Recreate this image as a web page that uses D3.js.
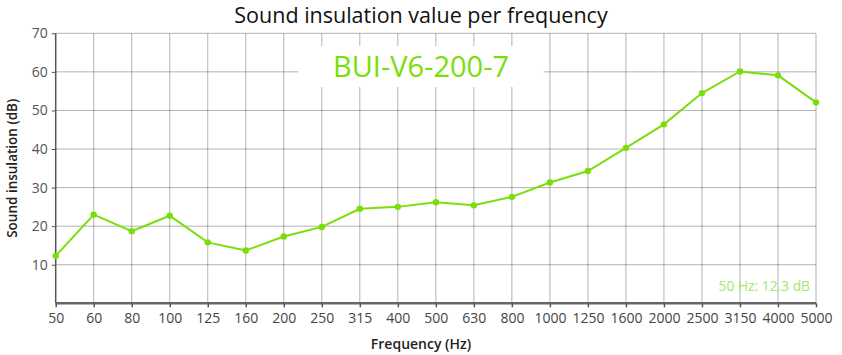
<!DOCTYPE html>
<html><head><meta charset="utf-8">
<script src="https://cdn.jsdelivr.net/npm/d3@7"></script>
<style>
html,body{margin:0;padding:0;background:#fff;}
svg{display:block;}
</style></head>
<body>
<svg id="chart" width="842" height="355"></svg>
<script>
const frequencies = ["50","60","80","100","125","160","200","250","315","400","500","630","800","1000","1250","1600","2000","2500","3150","4000","5000"];
const insulation = [12.3,23.0,18.7,22.7,15.8,13.7,17.3,19.8,24.5,25.0,26.2,25.4,27.6,31.3,34.3,40.3,46.4,54.5,60.1,59.1,52.1];
const yTicks = [10,20,30,40,50,60,70];
const title = "Sound insulation value per frequency";
const seriesName = "BUI-V6-200-7";
const xLabel = "Frequency (Hz)";
const yLabel = "Sound insulation (dB)";

const W = 842, H = 355;
const m = {left:55.7, right:26, top:33.3, bottom:52};
const svg = d3.select("#chart");
const font = "'Open Sans', sans-serif";
const green = "#7ade0a";

const x = d3.scalePoint().domain(frequencies).range([m.left, W - m.right]);
const y = d3.scaleLinear().domain([0,70]).range([H - m.bottom + 0.3, m.top]);

// grid
const grid = svg.append("g");
grid.selectAll("line.v").data(frequencies.slice(1)).join("line")
  .attr("x1", d=>x(d)).attr("x2", d=>x(d)).attr("y1", y(70)).attr("y2", y(0))
  .attr("stroke", "#000").attr("stroke-opacity", 0.3).attr("stroke-width", 1);
grid.selectAll("line.h").data(yTicks).join("line")
  .attr("x1", m.left).attr("x2", x("5000")).attr("y1", d=>y(d)).attr("y2", d=>y(d))
  .attr("stroke", "#000").attr("stroke-opacity", 0.3).attr("stroke-width", 1);

// series label box
const boxW = 245, boxH = 41;
svg.append("rect").attr("x", W/2 - boxW/2).attr("y", 46).attr("width", boxW).attr("height", boxH).attr("fill", "#fff");
svg.append("text").attr("x", W/2).attr("y", 77).attr("text-anchor", "middle")
  .attr("font-family", font).attr("font-size", 29).attr("fill", green).text(seriesName);

// axes
const yAxis = svg.append("g").attr("transform", `translate(${m.left},0)`)
  .call(d3.axisLeft(y).tickValues(yTicks).tickSize(4).tickPadding(4));
yAxis.select(".domain").attr("stroke", "#555").attr("stroke-width", 1.5).attr("d", `M0,${y(0)}V${y(70)}`);
yAxis.selectAll(".tick line").attr("stroke", "#555");
yAxis.selectAll("text").attr("font-family", font).attr("font-size", 14).attr("fill", "#555");

const xAxis = svg.append("g").attr("transform", `translate(0,${y(0)})`)
  .call(d3.axisBottom(x).tickSize(4).tickPadding(6));
xAxis.select(".domain").attr("stroke", "#666").attr("stroke-width", 2.5).attr("d", `M${m.left},0H${x("5000")}`);
xAxis.selectAll(".tick line").attr("stroke", "#555").attr("stroke-width", 1.5);
xAxis.selectAll("text").attr("font-family", font).attr("font-size", 14).attr("fill", "#444");

// line
const pts = frequencies.map((f,i)=>({f, v: insulation[i]}));
svg.append("path").datum(pts)
  .attr("d", d3.line().x(d=>x(d.f)).y(d=>y(d.v)))
  .attr("fill", "none").attr("stroke", green).attr("stroke-width", 2);
svg.selectAll("circle.pt").data(pts).join("circle")
  .attr("cx", d=>x(d.f)).attr("cy", d=>y(d.v)).attr("r", 3.2).attr("fill", green);

// title and labels
svg.append("text").attr("x", W/2).attr("y", 23).attr("text-anchor", "middle")
  .attr("font-family", font).attr("font-size", 21.5).attr("fill", "#111").text(title);
svg.append("text").attr("x", W/2).attr("y", 349).attr("text-anchor", "middle")
  .attr("font-family", font).attr("font-size", 14).attr("font-weight", 600).attr("fill", "#222").text(xLabel);
svg.append("text").attr("transform", `translate(17,${(y(0)+y(70))/2}) rotate(-90)`).attr("text-anchor", "middle")
  .attr("font-family", font).attr("font-size", 13.5).attr("font-weight", 600).attr("fill", "#222").text(yLabel);

// hover readout
svg.append("text").attr("x", 810).attr("y", 291).attr("text-anchor", "end")
  .attr("font-family", font).attr("font-size", 13.8).attr("fill", "#a3e86a")
  .text(`${frequencies[0]} Hz: ${insulation[0]} dB`);
</script>
</body></html>
